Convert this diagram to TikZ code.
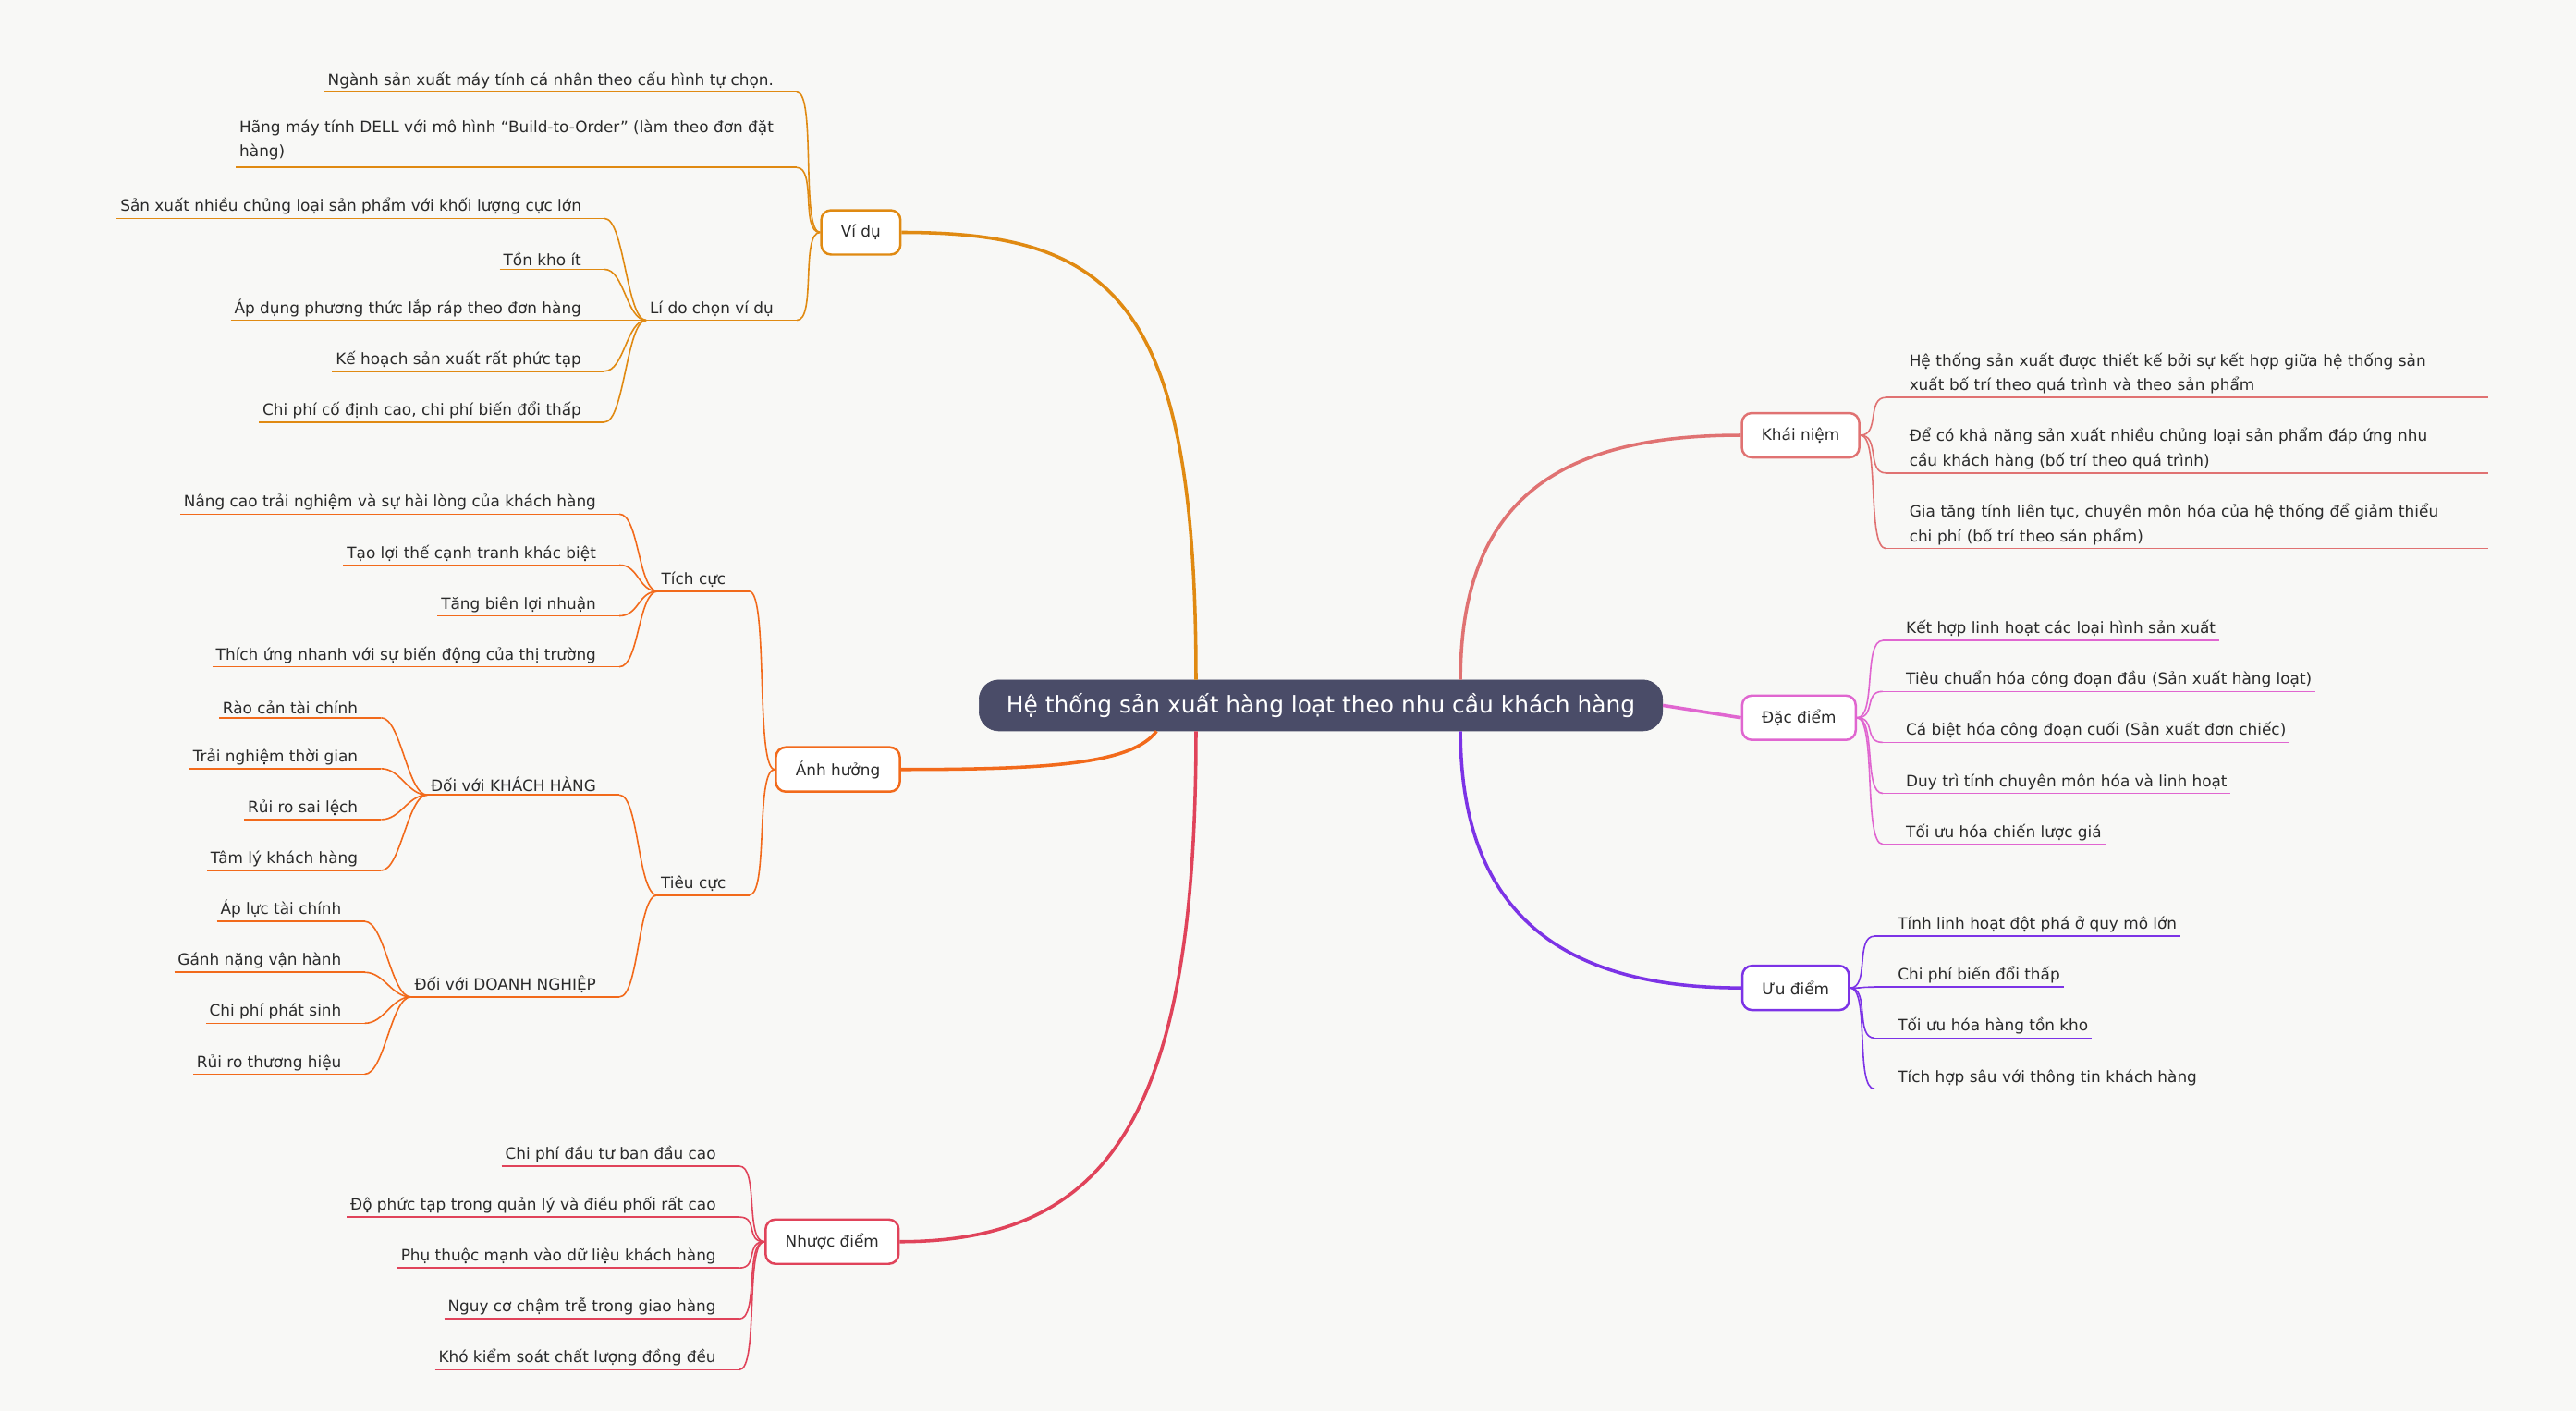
\documentclass[tikz,border=0pt]{standalone}
\usepackage{fontspec}
\setmainfont{DejaVu Sans}
\usetikzlibrary{calc}
\definecolor{bg}{HTML}{F8F8F6}
\definecolor{ctr}{HTML}{4A4C68}
\definecolor{ckn}{HTML}{E07272}
\definecolor{cdd}{HTML}{E066D0}
\definecolor{cud}{HTML}{7C33E6}
\definecolor{cvd}{HTML}{E08A12}
\definecolor{cah}{HTML}{F26A1B}
\definecolor{cnd}{HTML}{E0435A}
\definecolor{txt}{HTML}{2A2A2A}
\tikzset{
 lf/.style={inner sep=2pt, text=txt, font=\fontsize{9.5}{15}\selectfont},
 box/.style={draw, line width=1.4pt, rounded corners=6pt, fill=white, text=txt, minimum height=27pt, inner xsep=12pt, font=\fontsize{9.5}{12}\selectfont},
 br/.style={line width=2pt},
 ln/.style={line width=0.9pt}
}
% left leaf: name, parent point, end x, underline y, text, color
\newcommand\LLf[6]{%
 \node[lf,anchor=south east] (#1) at (#3,#4) {#5};
 \coordinate (#1e) at ($(#1.south east)+(12,0)$);
 \draw[ln,#6] (#1.south west) -- (#1e);
 \draw[ln,#6] (#1e) .. controls +(12,0) and +(-12,0) .. (#2);}
% right leaf: name, parent point, text x, underline y, text, color, opts
\newcommand\RLf[7]{%
 \node[lf,anchor=south west,#7] (#1) at (#3,#4) {#5};
 \coordinate (#1s) at ($(#1.south west)+(-12,0)$);
 \draw[ln,#6] (#1s) -- (#1.south east);
 \draw[ln,#6] (#2) .. controls +(12,0) and +(-12,0) .. (#1s);}
\begin{document}
\begin{tikzpicture}[x=1pt,y=-1pt]
\fill[bg] (0,0) rectangle (1568,859);
\path[use as bounding box] (0,0) rectangle (1568,859);
% centre
\node[draw=ctr, fill=ctr, rounded corners=12pt, text=white, minimum width=416pt, minimum height=31pt, font=\fontsize{14}{16}\selectfont] (c) at (804,429.5) {Hệ thống sản xuất hàng loạt theo nhu cầu khách hàng};
% main boxes
\node[box,draw=ckn] (kn) at (1096,265) {Khái niệm};
\node[box,draw=cdd] (dd) at (1095,437) {Đặc điểm};
\node[box,draw=cud] (ud) at (1093,601.5) {Ưu điểm};
\node[box,draw=cvd] (vd) at (524,141.5) {Ví dụ};
\node[box,draw=cah] (ah) at (510,468.5) {Ảnh hưởng};
\node[box,draw=cnd] (nd) at (506.5,756) {Nhược điểm};
% branches
\draw[br,ckn] ([xshift=85pt]c.north) .. controls +(0,-110) and +(-110,0) .. (kn.west);
\draw[br,cdd] (c.east) -- (dd.west);
\draw[br,cud] ([xshift=85pt]c.south) .. controls +(0,110) and +(-110,0) .. (ud.west);
\draw[br,cvd] ([xshift=-76pt]c.north) .. controls +(0,-230) and +(130,0) .. (vd.east);
\draw[br,cah] ([xshift=-100pt]c.south) .. controls +(-15,20) and +(90,0) .. (ah.east);
\draw[br,cnd] ([xshift=-76pt]c.south) .. controls +(0,230) and +(130,0) .. (nd.east);
% Khai niem
\RLf{k1}{kn.east}{1160}{242}{Hệ thống sản xuất được thiết kế bởi sự kết hợp giữa hệ thống sản\\xuất bố trí theo quá trình và theo sản phẩm}{ckn}{text width=350pt,align=left}
\RLf{k2}{kn.east}{1160}{288}{Để có khả năng sản xuất nhiều chủng loại sản phẩm đáp ứng nhu\\cầu khách hàng (bố trí theo quá trình)}{ckn}{text width=350pt,align=left}
\RLf{k3}{kn.east}{1160}{334}{Gia tăng tính liên tục, chuyên môn hóa của hệ thống để giảm thiểu\\chi phí (bố trí theo sản phẩm)}{ckn}{text width=350pt,align=left}
% Dac diem
\RLf{d1}{dd.east}{1158}{390}{Kết hợp linh hoạt các loại hình sản xuất}{cdd}{}
\RLf{d2}{dd.east}{1158}{421}{Tiêu chuẩn hóa công đoạn đầu (Sản xuất hàng loạt)}{cdd}{}
\RLf{d3}{dd.east}{1158}{452}{Cá biệt hóa công đoạn cuối (Sản xuất đơn chiếc)}{cdd}{}
\RLf{d4}{dd.east}{1158}{483}{Duy trì tính chuyên môn hóa và linh hoạt}{cdd}{}
\RLf{d5}{dd.east}{1158}{514}{Tối ưu hóa chiến lược giá}{cdd}{}
% Uu diem
\RLf{u1}{ud.east}{1153}{570}{Tính linh hoạt đột phá ở quy mô lớn}{cud}{}
\RLf{u2}{ud.east}{1153}{601}{Chi phí biến đổi thấp}{cud}{}
\RLf{u3}{ud.east}{1153}{632}{Tối ưu hóa hàng tồn kho}{cud}{}
\RLf{u4}{ud.east}{1153}{663}{Tích hợp sâu với thông tin khách hàng}{cud}{}
% Vi du
\LLf{v1}{vd.west}{473}{56}{Ngành sản xuất máy tính cá nhân theo cấu hình tự chọn.}{cvd}
\LLf{v2}{vd.west}{473}{102}{\begin{tabular}{@{}l@{}}Hãng máy tính DELL với mô hình “Build-to-Order” (làm theo đơn đặt\\[-0.5pt]hàng)\end{tabular}}{cvd}
\LLf{v3}{vd.west}{473}{195}{Lí do chọn ví dụ}{cvd}
\LLf{v31}{v3.south west}{356}{133}{Sản xuất nhiều chủng loại sản phẩm với khối lượng cực lớn}{cvd}
\LLf{v32}{v3.south west}{356}{164}{Tồn kho ít}{cvd}
\LLf{v33}{v3.south west}{356}{195}{Áp dụng phương thức lắp ráp theo đơn hàng}{cvd}
\LLf{v34}{v3.south west}{356}{226}{Kế hoạch sản xuất rất phức tạp}{cvd}
\LLf{v35}{v3.south west}{356}{257}{Chi phí cố định cao, chi phí biến đổi thấp}{cvd}
% Anh huong
\LLf{a1}{ah.west}{444}{360}{Tích cực}{cah}
\LLf{a11}{a1.south west}{365}{313}{Nâng cao trải nghiệm và sự hài lòng của khách hàng}{cah}
\LLf{a12}{a1.south west}{365}{344}{Tạo lợi thế cạnh tranh khác biệt}{cah}
\LLf{a13}{a1.south west}{365}{375}{Tăng biên lợi nhuận}{cah}
\LLf{a14}{a1.south west}{365}{406}{Thích ứng nhanh với sự biến động của thị trường}{cah}
\LLf{a2}{ah.west}{444}{545}{Tiêu cực}{cah}
\LLf{a21}{a2.south west}{365}{484}{Đối với KHÁCH HÀNG}{cah}
\LLf{a22}{a2.south west}{365}{607}{Đối với DOANH NGHIỆP}{cah}
\LLf{b1}{a21.south west}{220}{437}{Rào cản tài chính}{cah}
\LLf{b2}{a21.south west}{220}{468}{Trải nghiệm thời gian}{cah}
\LLf{b3}{a21.south west}{220}{499}{Rủi ro sai lệch}{cah}
\LLf{b4}{a21.south west}{220}{530}{Tâm lý khách hàng}{cah}
\LLf{e1}{a22.south west}{210}{561}{Áp lực tài chính}{cah}
\LLf{e2}{a22.south west}{210}{592}{Gánh nặng vận hành}{cah}
\LLf{e3}{a22.south west}{210}{623}{Chi phí phát sinh}{cah}
\LLf{e4}{a22.south west}{210}{654}{Rủi ro thương hiệu}{cah}
% Nhuoc diem
\LLf{n1}{nd.west}{438}{710}{Chi phí đầu tư ban đầu cao}{cnd}
\LLf{n2}{nd.west}{438}{741}{Độ phức tạp trong quản lý và điều phối rất cao}{cnd}
\LLf{n3}{nd.west}{438}{772}{Phụ thuộc mạnh vào dữ liệu khách hàng}{cnd}
\LLf{n4}{nd.west}{438}{803}{Nguy cơ chậm trễ trong giao hàng}{cnd}
\LLf{n5}{nd.west}{438}{834}{Khó kiểm soát chất lượng đồng đều}{cnd}
\end{tikzpicture}
\end{document}
